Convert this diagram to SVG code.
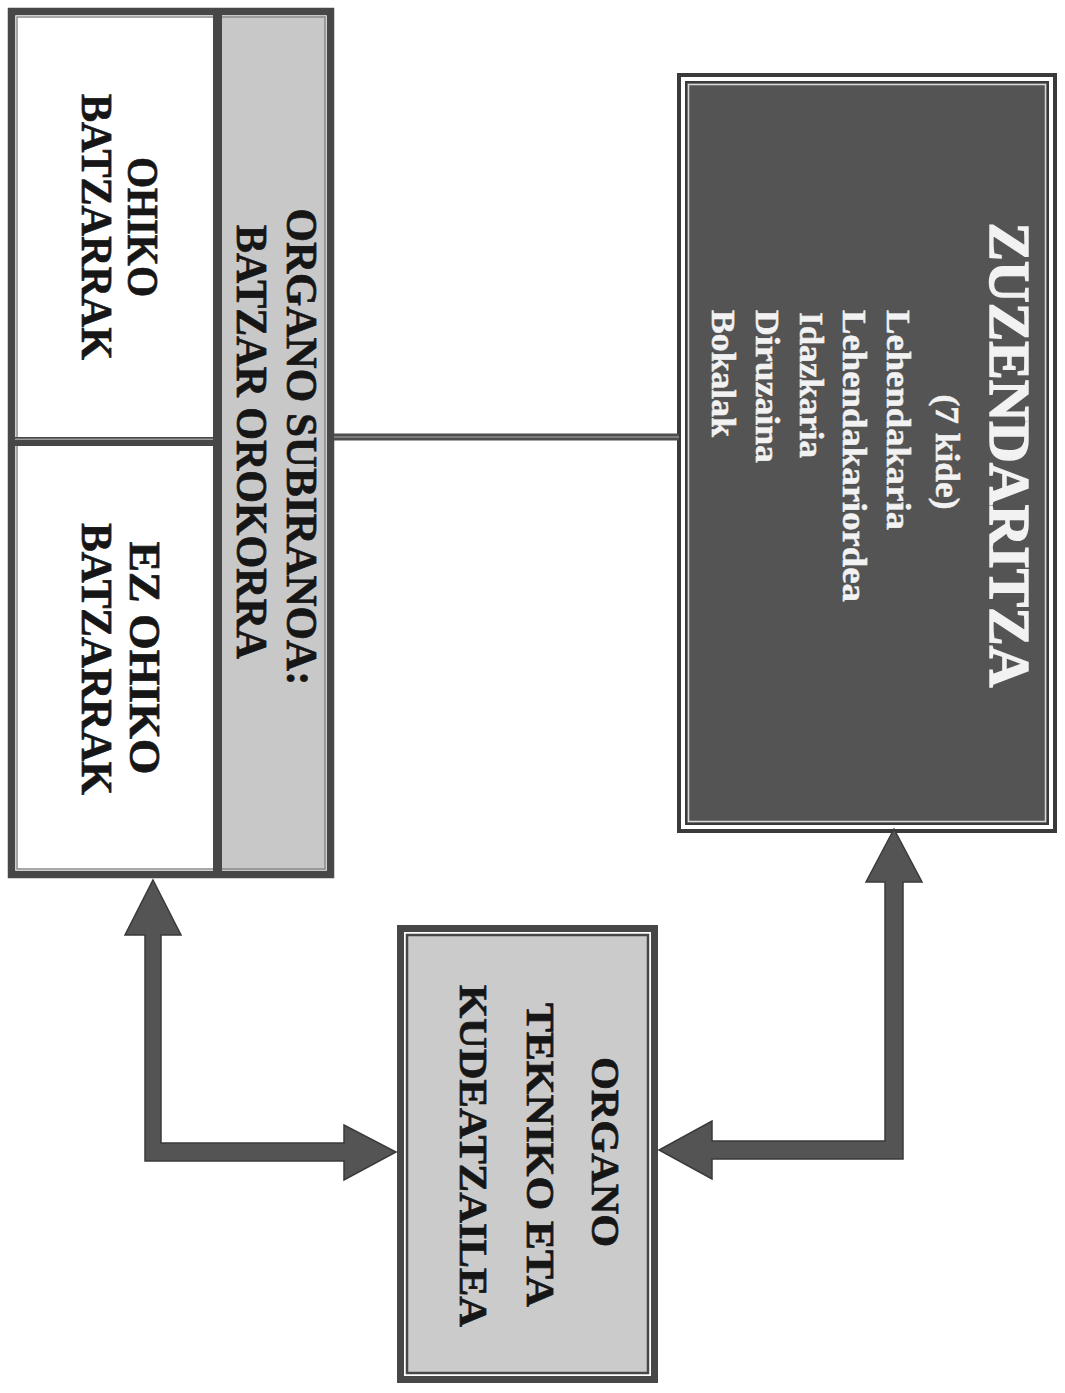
<svg xmlns="http://www.w3.org/2000/svg" width="1065" height="1393" viewBox="0 0 1065 1393">
<style>
.frame{fill:none;stroke:#474747}
.t{font-family:"Liberation Serif","Times New Roman",serif;font-weight:bold;fill:#161616;stroke:#161616;stroke-width:0.7}
.w{font-family:"Liberation Serif","Times New Roman",serif;font-weight:bold;fill:#f2f2f2;stroke:#f2f2f2;stroke-width:0.5}
.title{stroke-width:1.4}
.arrow{fill:#545454;stroke:#3a3a3a;stroke-width:1.5;stroke-linejoin:miter}
</style>
<rect width="1065" height="1393" fill="#ffffff"/>

<g id="batzar-orokorra">
  <rect x="11.5" y="11.5" width="319" height="863" fill="#ffffff" class="frame" stroke-width="7.5"/>
  <rect x="222" y="15" width="104" height="856" fill="#c8c8c8"/>
  <rect x="17" y="17" width="308" height="852" fill="none" stroke="#8a8a8a" stroke-width="1.5"/>
  <rect x="213" y="15" width="9" height="856" fill="#474747"/>
  <rect x="15" y="437" width="198" height="9" fill="#474747"/>
  <rect x="15" y="438.5" width="198" height="1.5" fill="#9a9a9a"/>
  <text class="t" font-size="45" text-anchor="middle" textLength="477" lengthAdjust="spacingAndGlyphs" transform="translate(287,447) rotate(90)">ORGANO SUBIRANOA:</text>
  <text class="t" font-size="45" text-anchor="middle" textLength="434" lengthAdjust="spacingAndGlyphs" transform="translate(237,442) rotate(90)">BATZAR OROKORRA</text>
</g>

<g id="ohiko-batzarrak">
  <text class="t" font-size="45" text-anchor="middle" textLength="140" lengthAdjust="spacingAndGlyphs" transform="translate(128,227) rotate(90)">OHIKO</text>
  <text class="t" font-size="45" text-anchor="middle" textLength="266" lengthAdjust="spacingAndGlyphs" transform="translate(82,227) rotate(90)">BATZARRAK</text>
</g>

<g id="ez-ohiko-batzarrak">
  <text class="t" font-size="45" text-anchor="middle" textLength="233" lengthAdjust="spacingAndGlyphs" transform="translate(130,658) rotate(90)">EZ OHIKO</text>
  <text class="t" font-size="45" text-anchor="middle" textLength="272" lengthAdjust="spacingAndGlyphs" transform="translate(82,659) rotate(90)">BATZARRAK</text>
</g>

<g id="zuzendaritza">
  <rect x="679" y="75" width="376" height="756" fill="#ffffff" stroke="#3a3a3a" stroke-width="4"/>
  <rect x="686" y="82" width="362" height="742" fill="#545454" stroke="#3a3a3a" stroke-width="2"/>
  <rect x="688.5" y="84.5" width="357" height="737" fill="none" stroke="#d8d8d8" stroke-width="1.5"/>
  <text class="w title" font-size="57" text-anchor="middle" textLength="465" lengthAdjust="spacingAndGlyphs" transform="translate(990,455) rotate(90)">ZUZENDARITZA</text>
  <text class="w" font-size="33" text-anchor="middle" textLength="115" lengthAdjust="spacingAndGlyphs" transform="translate(936,452) rotate(90)">(7 kide)</text>
  <text class="w" font-size="33" textLength="220" lengthAdjust="spacingAndGlyphs" transform="translate(887,310) rotate(90)">Lehendakaria</text>
  <text class="w" font-size="33" textLength="292" lengthAdjust="spacingAndGlyphs" transform="translate(843,310) rotate(90)">Lehendakariordea</text>
  <text class="w" font-size="33" textLength="146" lengthAdjust="spacingAndGlyphs" transform="translate(800,312) rotate(90)">Idazkaria</text>
  <text class="w" font-size="33" textLength="153" lengthAdjust="spacingAndGlyphs" transform="translate(756,310) rotate(90)">Diruzaina</text>
  <text class="w" font-size="33" textLength="127" lengthAdjust="spacingAndGlyphs" transform="translate(712,310) rotate(90)">Bokalak</text>
</g>

<g id="organo-tekniko">
  <rect x="400.5" y="928.5" width="254" height="451" fill="#ffffff" class="frame" stroke-width="7"/>
  <rect x="407" y="935" width="241" height="438" fill="#cbcbcb" stroke="#474747" stroke-width="2.5"/>
  <text class="t" font-size="41" text-anchor="middle" textLength="190" lengthAdjust="spacingAndGlyphs" transform="translate(592,1152) rotate(90)">ORGANO</text>
  <text class="t" font-size="41" text-anchor="middle" textLength="304" lengthAdjust="spacingAndGlyphs" transform="translate(527,1155) rotate(90)">TEKNIKO ETA</text>
  <text class="t" font-size="41" text-anchor="middle" textLength="342" lengthAdjust="spacingAndGlyphs" transform="translate(460,1156) rotate(90)">KUDEATZAILEA</text>
</g>

<g id="connectors">
  <line x1="334" y1="437" x2="679" y2="437" stroke="#4d4d4d" stroke-width="7"/>
  <line x1="334" y1="437" x2="679" y2="437" stroke="#8c8c8c" stroke-width="1.5"/>
  <path class="arrow" d="M153,880 L181,935 L161,935 L161,1143 L344,1143 L344,1125 L396,1152 L344,1180 L344,1161 L145,1161 L145,935 L125,935 Z"/>
  <path class="arrow" d="M894,829 L922,882 L903,882 L903,1159 L712,1159 L712,1179 L659,1150 L712,1121 L712,1141 L885,1141 L885,882 L866,882 Z"/>
</g>
</svg>
